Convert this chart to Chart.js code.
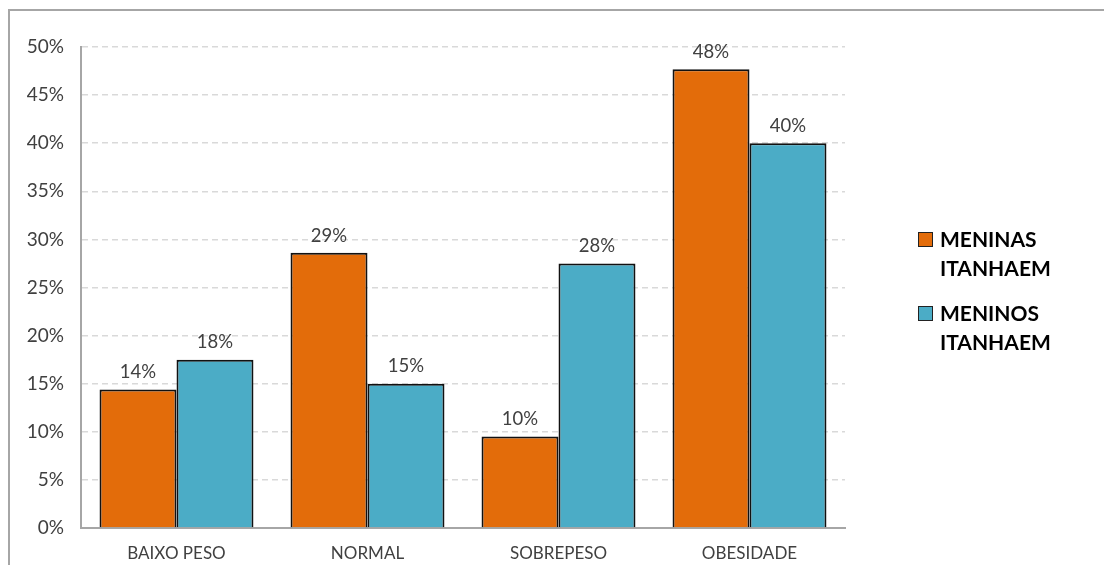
<!DOCTYPE html>
<html>
<head>
<meta charset="utf-8">
<script src="https://cdn.jsdelivr.net/npm/chart.js@4"></script>
<style>
    html, body { margin: 0; padding: 0; background: #fff; }
    #wrap { position: relative; width: 1104px; height: 565px; overflow: hidden; }
    #frame {
        position: absolute; left: 8px; top: 9px; width: 1120px; height: 600px;
        border: 2px solid #a6a6a6; box-sizing: border-box;
    }
    canvas { position: absolute; left: 0; top: 0; }
</style>
</head>
<body>
<div id="wrap">
    <div id="frame"></div>
    <canvas id="chart" width="1104" height="565"></canvas>
</div>
<script>
const categories = ["BAIXO PESO", "NORMAL", "SOBREPESO", "OBESIDADE"];
const seriesNames = [["MENINAS", "ITANHAEM"], ["MENINOS", "ITANHAEM"]];
const meninas = [14.4, 28.6, 9.5, 47.7];
const meninos = [17.5, 15.0, 27.5, 40.0];
const yTicks = [0, 5, 10, 15, 20, 25, 30, 35, 40, 45, 50];

const FONT = "Lato, 'Open Sans', sans-serif";
const TEXT = "#404040";

// value labels above each bar
const barLabels = {
    id: "barLabels",
    afterDatasetsDraw(chart) {
        const ctx = chart.ctx;
        ctx.save();
        ctx.font = "18.5px " + FONT;
        ctx.fillStyle = TEXT;
        ctx.textAlign = "center";
        ctx.textBaseline = "bottom";
        chart.data.datasets.forEach((ds, i) => {
            chart.getDatasetMeta(i).data.forEach((bar, j) => {
                ctx.fillText(Math.round(ds.data[j]) + "%", bar.x, bar.y - 8);
            });
        });
        ctx.restore();
    }
};

// two-line legend on the right
const sideLegend = {
    id: "sideLegend",
    afterDraw(chart) {
        const ctx = chart.ctx;
        ctx.save();
        ctx.font = "bold 21px " + FONT;
        ctx.textBaseline = "middle";
        chart.data.datasets.forEach((ds, i) => {
            const y0 = 240 + i * 74;
            ctx.fillStyle = ds.backgroundColor;
            ctx.strokeStyle = "#222";
            ctx.lineWidth = 1;
            ctx.fillRect(918, y0 - 8, 15, 15);
            ctx.strokeRect(918.5, y0 - 7.5, 14, 14);
            ctx.fillStyle = "#000";
            seriesNames[i].forEach((line, k) => ctx.fillText(line, 940, y0 + k * 29));
        });
        ctx.restore();
    }
};

new Chart(document.getElementById("chart").getContext("2d"), {
    type: "bar",
    data: {
        labels: categories,
        datasets: [
            {
                label: seriesNames[0].join(" "),
                data: meninas,
                backgroundColor: "#E36C0A",
                borderColor: "#111",
                borderWidth: 2,
                categoryPercentage: 0.806,
                barPercentage: 1.0
            },
            {
                label: seriesNames[1].join(" "),
                data: meninos,
                backgroundColor: "#4BACC6",
                borderColor: "#111",
                borderWidth: 2,
                categoryPercentage: 0.806,
                barPercentage: 1.0
            }
        ]
    },
    options: {
        responsive: false,
        animation: false,
        layout: { padding: { top: 47, right: 259, bottom: 0, left: 0 } },
        plugins: {
            legend: { display: false },
            tooltip: { enabled: false }
        },
        scales: {
            x: {
                grid: { display: false, drawTicks: false },
                border: { color: "#a6a6a6", width: 2 },
                ticks: { color: TEXT, font: { family: FONT, size: 17 }, padding: 15 },
                afterFit: s => { s.height = 37; }
            },
            y: {
                min: 0,
                max: 50,
                afterBuildTicks: s => { s.ticks = yTicks.map(v => ({ value: v })); },
                grid: { color: "#d9d9d9", lineWidth: 1.5, drawTicks: false },
                border: { color: "#a6a6a6", width: 2, dash: [6, 4] },
                ticks: {
                    color: TEXT,
                    font: { family: FONT, size: 19 },
                    padding: 17,
                    callback: v => v + "%"
                },
                afterFit: s => { s.width = 81; }
            }
        }
    },
    plugins: [barLabels, sideLegend]
});
</script>
</body>
</html>
